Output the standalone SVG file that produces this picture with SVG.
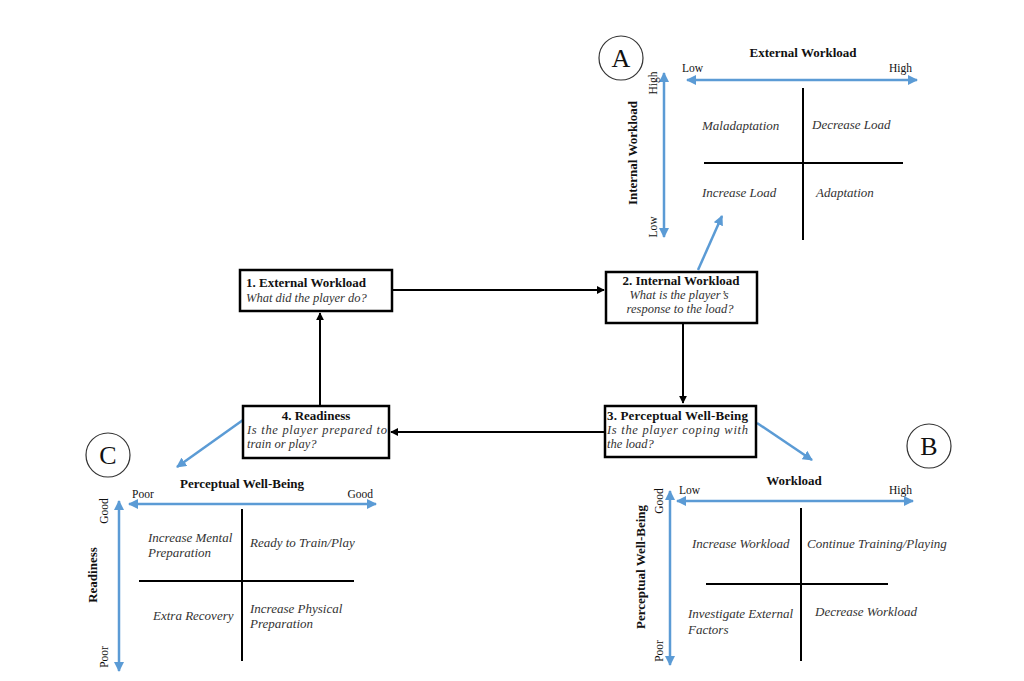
<svg xmlns="http://www.w3.org/2000/svg" width="1024" height="681" viewBox="0 0 1024 681">
<style>
text{font-family:"Liberation Serif","Times New Roman",serif;fill:#111}
.b{font-weight:bold;font-size:13px}
.i{font-style:italic;font-size:12.5px;fill:#333}
.q{font-style:italic;font-size:13px;fill:#333}
.s{font-size:11.5px}
.box{fill:#fff;stroke:#000;stroke-width:2.5}
.k{stroke:#000;stroke-width:2;fill:none}
.blue{stroke:#5b9bd5;stroke-width:2.5;fill:none}
.circ{fill:#fff;stroke:#333;stroke-width:1.2}
.L{font-size:26px}
</style>
<defs>
<marker id="ak" viewBox="0 0 10 10" refX="9" refY="5" markerWidth="4" markerHeight="4" orient="auto"><path d="M0,0L10,5L0,10z" fill="#000"/></marker>
<marker id="ab" viewBox="0 0 10 10" refX="9" refY="5" markerWidth="4" markerHeight="4" orient="auto-start-reverse"><path d="M0,0L10,5L0,10z" fill="#5b9bd5"/></marker>
</defs>
<rect width="1024" height="681" fill="#fff"/>

<g id="connectors">
<line class="k" x1="392" y1="290" x2="604" y2="290" marker-end="url(#ak)"/>
<line class="k" x1="683" y1="323" x2="683" y2="403" marker-end="url(#ak)"/>
<line class="k" x1="605" y1="432" x2="391" y2="432" marker-end="url(#ak)"/>
<line class="k" x1="320" y1="406" x2="320" y2="313" marker-end="url(#ak)"/>
<line class="blue" x1="698" y1="270" x2="722" y2="216" marker-end="url(#ab)"/>
<line class="blue" x1="757" y1="423" x2="812" y2="460" marker-end="url(#ab)"/>
<line class="blue" x1="243" y1="420" x2="177" y2="467" marker-end="url(#ab)"/>
</g>

<g id="node1">
<rect class="box" x="240" y="270" width="152" height="41"/>
<text class="b" x="246" y="287">1. External Workload</text>
<text class="i" x="246" y="302">What did the player do?</text>
</g>
<g id="node2">
<rect class="box" x="606" y="272" width="151" height="51"/>
<text class="b" x="681" y="285" text-anchor="middle">2. Internal Workload</text>
<text class="i" x="679" y="299" text-anchor="middle">What is the player’s</text>
<text class="i" x="680" y="313" text-anchor="middle">response to the load?</text>
</g>
<g id="node3">
<rect class="box" x="605" y="406" width="151" height="51"/>
<text class="b" x="607" y="420" textLength="141" lengthAdjust="spacing">3. Perceptual Well-Being</text>
<text class="i" x="607" y="434" textLength="141" lengthAdjust="spacing">Is the player coping with</text>
<text class="i" x="607" y="448">the load?</text>
</g>
<g id="node4">
<rect class="box" x="243" y="406" width="146" height="52"/>
<text class="b" x="316" y="420" text-anchor="middle">4. Readiness</text>
<text class="i" x="247" y="434" textLength="140" lengthAdjust="spacing">Is the player prepared to</text>
<text class="i" x="247" y="448">train or play?</text>
</g>

<g id="panelA">
<circle class="circ" cx="621" cy="58" r="22"/>
<text class="L" x="621" y="67" text-anchor="middle">A</text>
<text class="b" x="803" y="57" text-anchor="middle">External Workload</text>
<text class="s" x="682" y="72">Low</text>
<text class="s" x="912" y="72" text-anchor="end">High</text>
<line class="blue" x1="687" y1="80" x2="917" y2="80" marker-start="url(#ab)" marker-end="url(#ab)"/>
<line class="blue" x1="664" y1="73" x2="664" y2="237" marker-start="url(#ab)" marker-end="url(#ab)"/>
<text class="s" transform="translate(657,83) rotate(-90)" text-anchor="middle">High</text>
<text class="s" transform="translate(657,227) rotate(-90)" text-anchor="middle">Low</text>
<text class="b" transform="translate(637,153) rotate(-90)" text-anchor="middle">Internal Workload</text>
<line class="k" x1="803" y1="88" x2="803" y2="240"/>
<line class="k" x1="704" y1="163" x2="903" y2="163"/>
<text class="q" x="702" y="130">Maladaptation</text>
<text class="q" x="812" y="129">Decrease Load</text>
<text class="q" x="702" y="197">Increase Load</text>
<text class="q" x="816" y="197">Adaptation</text>
</g>

<g id="panelB">
<circle class="circ" cx="929" cy="446" r="22"/>
<text class="L" x="929" y="455" text-anchor="middle">B</text>
<text class="b" x="794" y="485" text-anchor="middle">Workload</text>
<text class="s" x="679" y="494">Low</text>
<text class="s" x="912" y="494" text-anchor="end">High</text>
<line class="blue" x1="677" y1="501" x2="913" y2="501" marker-start="url(#ab)" marker-end="url(#ab)"/>
<line class="blue" x1="670" y1="491" x2="670" y2="665" marker-start="url(#ab)" marker-end="url(#ab)"/>
<text class="s" transform="translate(663,501) rotate(-90)" text-anchor="middle">Good</text>
<text class="s" transform="translate(663,651) rotate(-90)" text-anchor="middle">Poor</text>
<text class="b" transform="translate(645,567) rotate(-90)" text-anchor="middle">Perceptual Well-Being</text>
<line class="k" x1="801" y1="508" x2="801" y2="661"/>
<line class="k" x1="706" y1="584" x2="888" y2="584"/>
<text class="q" x="692" y="548">Increase Workload</text>
<text class="q" x="807" y="548">Continue Training/Playing</text>
<text class="q" x="688" y="618">Investigate External</text>
<text class="q" x="688" y="634">Factors</text>
<text class="q" x="815" y="616">Decrease Workload</text>
</g>

<g id="panelC">
<circle class="circ" cx="108" cy="455" r="22"/>
<text class="L" x="108" y="464" text-anchor="middle">C</text>
<text class="b" x="242" y="488" text-anchor="middle">Perceptual Well-Being</text>
<text class="s" x="132" y="498">Poor</text>
<text class="s" x="373" y="498" text-anchor="end">Good</text>
<line class="blue" x1="129" y1="504" x2="376" y2="504" marker-start="url(#ab)" marker-end="url(#ab)"/>
<line class="blue" x1="119" y1="501" x2="119" y2="671" marker-start="url(#ab)" marker-end="url(#ab)"/>
<text class="s" transform="translate(108,511) rotate(-90)" text-anchor="middle">Good</text>
<text class="s" transform="translate(108,657) rotate(-90)" text-anchor="middle">Poor</text>
<text class="b" transform="translate(97,575) rotate(-90)" text-anchor="middle">Readiness</text>
<line class="k" x1="242" y1="509" x2="242" y2="661"/>
<line class="k" x1="139" y1="581" x2="354" y2="581"/>
<text class="q" x="148" y="542">Increase Mental</text>
<text class="q" x="148" y="557">Preparation</text>
<text class="q" x="250" y="547">Ready to Train/Play</text>
<text class="q" x="153" y="620">Extra Recovery</text>
<text class="q" x="250" y="613">Increase Physical</text>
<text class="q" x="250" y="628">Preparation</text>
</g>
</svg>
